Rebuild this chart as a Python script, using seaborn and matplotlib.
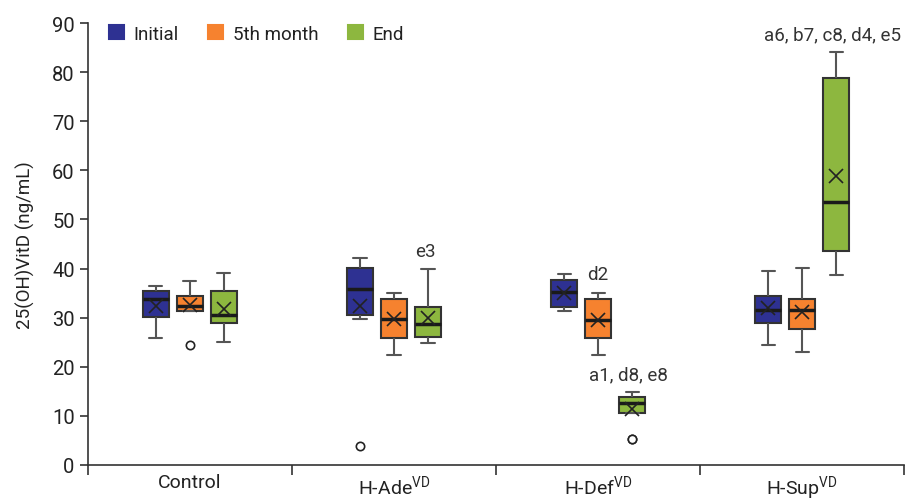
import pandas as pd
import matplotlib.pyplot as plt
import seaborn as sns

# ---------------------------------------------------
# Daten (9 Werte je Box)
# ---------------------------------------------------
groups = ["Control", r"H-Ade$^{\mathregular{VD}}$", r"H-Def$^{\mathregular{VD}}$", r"H-Sup$^{\mathregular{VD}}$"]
times = ["Initial", "5th month", "End"]
colors = ["#2E3192", "#F6822F", "#8DB73F"]

control_initial = [25.9, 28.0, 30.1, 31.5, 33.7, 34.5, 35.5, 35.9, 36.5]
control_5th = [24.5, 31.3, 31.3, 32.0, 32.4, 33.5, 34.4, 36.5, 37.5]
control_end = [25.1, 27.5, 28.9, 29.8, 30.5, 33.0, 35.5, 36.9, 39.0]

ade_initial = [3.8, 29.7, 30.5, 31.5, 35.8, 37.0, 40.2, 40.9, 42.2]
ade_5th = [22.4, 25.0, 25.8, 29.0, 29.7, 32.4, 33.7, 34.3, 35.0]
ade_end = [24.8, 25.5, 26.1, 27.5, 28.6, 30.5, 32.2, 34.0, 39.9]

def_initial = [31.3, 31.8, 32.1, 34.0, 35.3, 36.0, 37.6, 38.1, 38.8]
def_5th = [22.4, 24.5, 25.8, 28.5, 29.6, 32.5, 33.7, 34.3, 35.1]
def_end = [5.2, 5.2, 10.5, 12.4, 12.6, 13.6, 13.8, 14.4, 14.9]

sup_initial = [24.4, 27.0, 28.8, 30.5, 31.6, 33.0, 34.4, 38.8, 39.5]
sup_5th = [22.9, 26.0, 27.6, 30.0, 31.6, 32.5, 33.7, 36.3, 40.2]
sup_end = [38.7, 41.0, 43.6, 48.0, 53.6, 60.0, 78.9, 82.2, 84.1]

series = [
    [control_initial, control_5th, control_end],
    [ade_initial, ade_5th, ade_end],
    [def_initial, def_5th, def_end],
    [sup_initial, sup_5th, sup_end],
]

# Signifikanz-Beschriftungen: (Text, Gruppe, x-Versatz, y)
sig_labels = [
    ("e3", 1, 0.155, 43.6),
    ("d2", 2, 0.0, 38.8),
    ("a1, d8, e8", 2, 0.15, 18.5),
    ("a6, b7, c8, d4, e5", 3, 0.15, 87.8),
]

rows = []
for g, per_time in zip(groups, series):
    for t, vals in zip(times, per_time):
        for v in vals:
            rows.append({"group": g, "time": t, "value": v})
df = pd.DataFrame(rows)

# ---------------------------------------------------
# Plot
# ---------------------------------------------------
sns.set_style("ticks")
plt.rcParams["font.family"] = ["Roboto", "DejaVu Sans"]

fig, ax = plt.subplots(figsize=(9.06, 5.02), dpi=100)
fig.subplots_adjust(left=0.097, right=0.998, bottom=0.072, top=0.952)

sns.boxplot(
    data=df, x="group", y="value", hue="time",
    order=groups, hue_order=times, palette=colors, saturation=1,
    width=0.5, gap=0.23, linewidth=1.5, linecolor="#333333",
    showmeans=True,
    meanprops=dict(marker="x", markeredgecolor="#222222", markersize=9.5, markeredgewidth=1.2),
    medianprops=dict(color="#1a1a1a", linewidth=2.5),
    flierprops=dict(marker="o", markerfacecolor="white", markeredgecolor="#222222",
                    markersize=6, markeredgewidth=1.2),
    whiskerprops=dict(color="#555555"),
    capprops=dict(color="#555555"),
    ax=ax,
)

for text, gi, dx, y in sig_labels:
    ax.text(gi + dx, y, text, ha="center", va="center", fontsize=13.5, color="#333333")

ax.set_ylim(0, 90)
ax.set_yticks(range(0, 91, 10))
ax.set_xlim(-0.5, 3.5)
ax.set_xticks([-0.5, 0.5, 1.5, 2.5, 3.5])
ax.set_xticklabels([])
ax.set_xticks(range(len(groups)), minor=True)
ax.set_xticklabels(groups, minor=True)
ax.tick_params(axis="x", which="major", length=7, width=1.2, color="#333333")
ax.tick_params(axis="x", which="minor", length=0, labelsize=14, pad=6, labelcolor="#222222")
ax.tick_params(axis="y", length=6, width=1.2, color="#333333", labelsize=14.5, labelcolor="#222222")
ax.set_xlabel("")
ax.set_ylabel("25(OH)VitD (ng/mL)", fontsize=13.5, color="#222222", labelpad=12)

sns.despine(ax=ax)
for side in ["left", "bottom"]:
    ax.spines[side].set_color("#333333")
    ax.spines[side].set_linewidth(1.2)

leg = ax.legend(
    title=None, ncol=3, loc="upper left", bbox_to_anchor=(0.005, 1.035),
    frameon=False, handlelength=0.8, handleheight=0.8, handletextpad=0.5,
    columnspacing=1.6, fontsize=13.5,
)
for h in leg.legend_handles:
    h.set_edgecolor(h.get_facecolor())
for t in leg.get_texts():
    t.set_color("#222222")

plt.savefig("out.png", dpi=100)
plt.close()
